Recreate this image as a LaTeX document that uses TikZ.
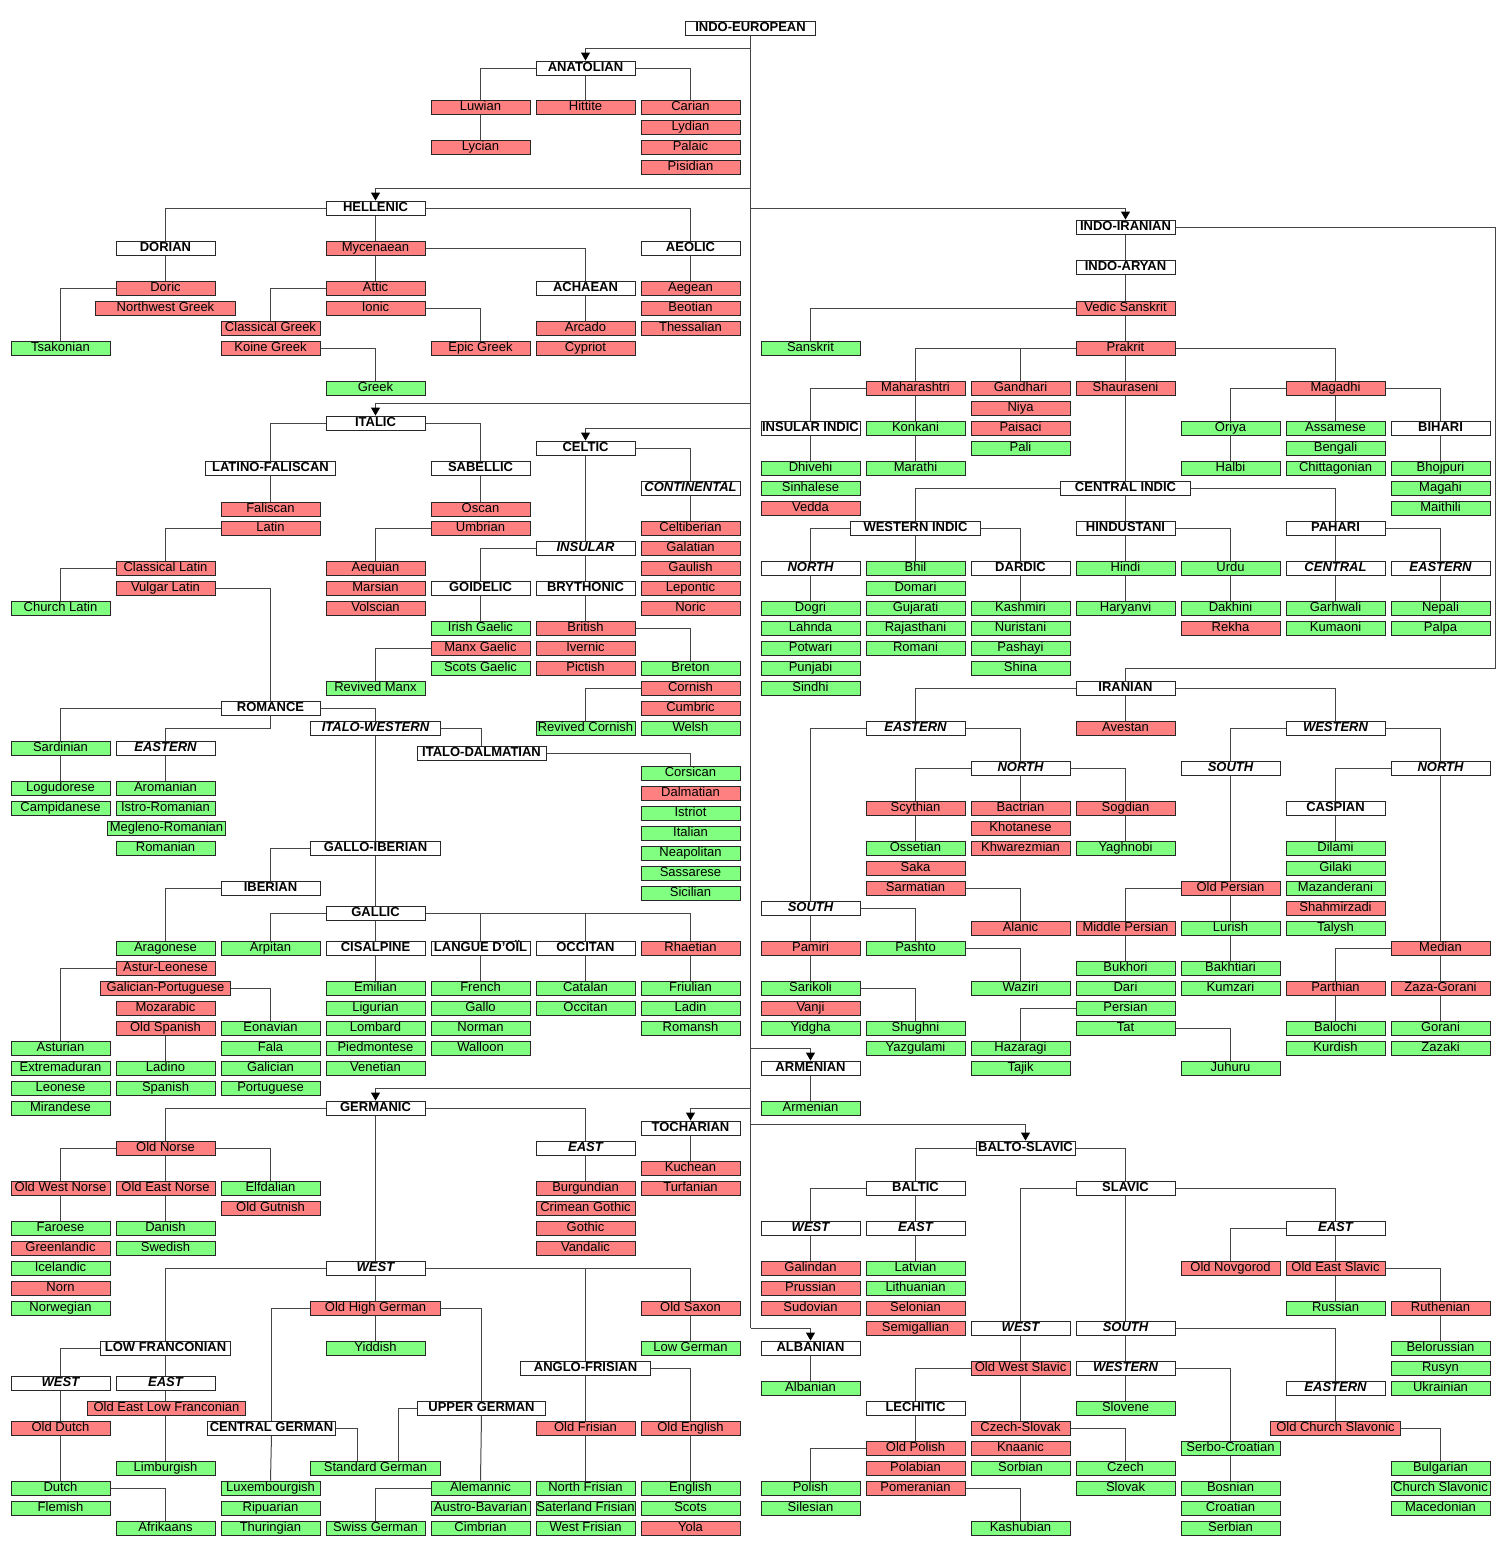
\documentclass[tikz,border=0pt]{standalone}
\usepackage{fontspec}
\setmainfont{Liberation Sans}
\usetikzlibrary{arrows.meta,calc}
\pgfdeclarelayer{bg}
\pgfsetlayers{bg,main}
\definecolor{lred}{RGB}{255,128,128}
\definecolor{lgreen}{RGB}{128,255,128}
\definecolor{lncol}{RGB}{70,70,70}
\definecolor{bdcol}{RGB}{40,40,40}
\newcommand\fsz{\fontsize{13}{14}\selectfont}
\newcommand\nd[5]{\node[#1] (#2) at (#3,#4) {#5};}
\tikzset{
  box/.style={draw=bdcol, line width=0.9pt, minimum width=99pt, minimum height=14pt,
    inner sep=0pt, text height=9.4pt, text depth=2.6pt, font=\fsz},
  rb/.style={box, fill=lred},
  gb/.style={box, fill=lgreen},
  wb/.style={box, fill=white, font=\fsz\bfseries},
  wi/.style={box, fill=white, font=\fsz\bfseries\itshape},
  ln/.style={draw=lncol, line width=1pt},
  arr/.style={ln, -{Triangle[width=9pt,length=8pt,color=black]}}
}
\begin{document}
\begin{tikzpicture}[x=1pt,y=-1pt]
\useasboundingbox (-0.5,-1) rectangle (1499.5,1549);
% ---------------- nodes ----------------
\nd{wb,minimum width=130pt}{IE}{750}{27}{INDO-EUROPEAN}
% Anatolian
\nd{wb}{ANA}{585}{67}{ANATOLIAN}
\nd{rb}{luw}{480}{106}{Luwian}
\nd{rb}{hit}{585}{106}{Hittite}
\nd{rb}{car}{690}{106}{Carian}
\nd{rb}{lyc}{480}{146}{Lycian}
\nd{rb}{lyd}{690}{126}{Lydian}
\nd{rb}{pal}{690}{146}{Palaic}
\nd{rb}{pis}{690}{166}{Pisidian}
% Hellenic
\nd{wb}{HEL}{375}{207}{HELLENIC}
\nd{wb}{DOR}{165}{247}{DORIAN}
\nd{rb}{myc}{375}{247}{Mycenaean}
\nd{wb}{AEO}{690}{247}{AEOLIC}
\nd{rb}{dor}{165}{287}{Doric}
\nd{rb,minimum width=140pt}{nwg}{165}{307}{Northwest Greek}
\nd{gb}{tsa}{60}{347}{Tsakonian}
\nd{rb}{att}{375}{287}{Attic}
\nd{rb}{ion}{375}{307}{Ionic}
\nd{rb}{clg}{270}{327}{Classical Greek}
\nd{rb}{koi}{270}{347}{Koine Greek}
\nd{gb}{gre}{375}{387}{Greek}
\nd{rb}{epi}{480}{347}{Epic Greek}
\nd{wb}{ACH}{585}{287}{ACHAEAN}
\nd{rb}{arc}{585}{327}{Arcado}
\nd{rb}{cyp}{585}{347}{Cypriot}
\nd{rb}{aeg}{690}{287}{Aegean}
\nd{rb}{beo}{690}{307}{Beotian}
\nd{rb}{the}{690}{327}{Thessalian}
% Italic
\nd{wb}{ITA}{375}{422}{ITALIC}
\nd{wb,minimum width=130pt}{LF}{270}{467}{LATINO-FALISCAN}
\nd{wb}{SAB}{480}{467}{SABELLIC}
\nd{rb}{fal}{270}{508}{Faliscan}
\nd{rb}{lat}{270}{527}{Latin}
\nd{rb}{cll}{165}{567}{Classical Latin}
\nd{rb}{vul}{165}{587}{Vulgar Latin}
\nd{gb}{chl}{60}{607}{Church Latin}
\nd{rb}{osc}{480}{508}{Oscan}
\nd{rb}{umb}{480}{527}{Umbrian}
\nd{rb}{aeq}{375}{567}{Aequian}
\nd{rb}{mar}{375}{587}{Marsian}
\nd{rb}{vol}{375}{607}{Volscian}
% Celtic
\nd{wb}{CEL}{585}{447}{CELTIC}
\nd{wi}{CON}{690}{487}{CONTINENTAL}
\nd{rb}{cib}{690}{527}{Celtiberian}
\nd{rb}{gal}{690}{547}{Galatian}
\nd{rb}{gau}{690}{567}{Gaulish}
\nd{rb}{lep}{690}{587}{Lepontic}
\nd{rb}{nor}{690}{607}{Noric}
\nd{wi}{INS}{585}{547}{INSULAR}
\nd{wb}{GOI}{480}{587}{GOIDELIC}
\nd{wb}{BRY}{585}{587}{BRYTHONIC}
\nd{gb}{iri}{480}{627}{Irish Gaelic}
\nd{rb}{mxg}{480}{647}{Manx Gaelic}
\nd{gb}{scg}{480}{667}{Scots Gaelic}
\nd{gb}{rvm}{375}{687}{Revived Manx}
\nd{rb}{bri}{585}{627}{British}
\nd{rb}{ive}{585}{647}{Ivernic}
\nd{rb}{pic}{585}{667}{Pictish}
\nd{gb}{bre}{690}{667}{Breton}
\nd{rb}{cor}{690}{687}{Cornish}
\nd{rb}{cum}{690}{707}{Cumbric}
\nd{gb}{wel}{690}{727}{Welsh}
\nd{gb}{rvc}{585}{727}{Revived Cornish}
% Romance
\nd{wb}{ROM}{270}{707}{ROMANCE}
\nd{gb}{sar}{60}{747}{Sardinian}
\nd{wi}{REA}{165}{747}{EASTERN}
\nd{gb}{log}{60}{787}{Logudorese}
\nd{gb}{cam}{60}{807}{Campidanese}
\nd{gb}{aro}{165}{787}{Aromanian}
\nd{gb}{ist}{165}{807}{Istro-Romanian}
\nd{gb,minimum width=118pt}{meg}{166}{827}{Megleno-Romanian}
\nd{gb}{rmn}{165}{847}{Romanian}
\nd{wi,minimum width=130pt}{IW}{375}{727}{ITALO-WESTERN}
\nd{wb,minimum width=129pt}{ID}{481}{752}{ITALO-DALMATIAN}
\nd{gb}{crs}{690}{772}{Corsican}
\nd{rb}{dal}{690}{792}{Dalmatian}
\nd{gb}{isr}{690}{812}{Istriot}
\nd{gb}{itl}{690}{832}{Italian}
\nd{gb}{nea}{690}{852}{Neapolitan}
\nd{gb}{sas}{690}{872}{Sassarese}
\nd{gb}{sic}{690}{892}{Sicilian}
% Gallo-Iberian
\nd{wb,minimum width=130pt}{GI}{375}{847}{GALLO-IBERIAN}
\nd{wb}{IBE}{270}{887}{IBERIAN}
\nd{wb}{GAL}{375}{912}{GALLIC}
\nd{gb}{ara}{165}{947}{Aragonese}
\nd{rb}{ast}{165}{967}{Astur-Leonese}
\nd{rb,minimum width=130pt}{gp}{165}{987}{Galician-Portuguese}
\nd{rb}{moz}{165}{1007}{Mozarabic}
\nd{rb}{osp}{165}{1027}{Old Spanish}
\nd{gb}{asu}{60}{1047}{Asturian}
\nd{gb}{ext}{60}{1067}{Extremaduran}
\nd{gb}{leo}{60}{1087}{Leonese}
\nd{gb}{mir}{60}{1107}{Mirandese}
\nd{gb}{lad}{165}{1067}{Ladino}
\nd{gb}{spa}{165}{1087}{Spanish}
\nd{gb}{eon}{270}{1027}{Eonavian}
\nd{gb}{fala}{270}{1047}{Fala}
\nd{gb}{glc}{270}{1067}{Galician}
\nd{gb}{por}{270}{1087}{Portuguese}
\nd{gb}{arp}{270}{947}{Arpitan}
\nd{wb}{CIS}{375}{947}{CISALPINE}
\nd{wb}{LDO}{480}{947}{LANGUE D'OÏL}
\nd{wb}{OCC}{585}{947}{OCCITAN}
\nd{rb}{rha}{690}{947}{Rhaetian}
\nd{gb}{emi}{375}{987}{Emilian}
\nd{gb}{lig}{375}{1007}{Ligurian}
\nd{gb}{lom}{375}{1027}{Lombard}
\nd{gb}{pie}{375}{1047}{Piedmontese}
\nd{gb}{ven}{375}{1067}{Venetian}
\nd{gb}{fre}{480}{987}{French}
\nd{gb}{gll}{480}{1007}{Gallo}
\nd{gb}{nrm}{480}{1027}{Norman}
\nd{gb}{wal}{480}{1047}{Walloon}
\nd{gb}{cat}{585}{987}{Catalan}
\nd{gb}{oci}{585}{1007}{Occitan}
\nd{gb}{fri}{690}{987}{Friulian}
\nd{gb}{ldn}{690}{1007}{Ladin}
\nd{gb}{rms}{690}{1027}{Romansh}
% Germanic
\nd{wb}{GER}{375}{1107}{GERMANIC}
\nd{rb}{ono}{165}{1147}{Old Norse}
\nd{wi}{GEE}{585}{1147}{EAST}
\nd{rb}{own}{60}{1187}{Old West Norse}
\nd{rb}{oen}{165}{1187}{Old East Norse}
\nd{gb}{elf}{270}{1187}{Elfdalian}
\nd{rb}{ogu}{270}{1207}{Old Gutnish}
\nd{gb}{far}{60}{1227}{Faroese}
\nd{rb}{grl}{60}{1247}{Greenlandic}
\nd{gb}{ice}{60}{1267}{Icelandic}
\nd{rb}{nrn}{60}{1287}{Norn}
\nd{gb}{nrw}{60}{1307}{Norwegian}
\nd{gb}{dan}{165}{1227}{Danish}
\nd{gb}{swe}{165}{1247}{Swedish}
\nd{rb}{bur}{585}{1187}{Burgundian}
\nd{rb}{crg}{585}{1207}{Crimean Gothic}
\nd{rb}{got}{585}{1227}{Gothic}
\nd{rb}{van}{585}{1247}{Vandalic}
\nd{wi}{GEW}{375}{1267}{WEST}
\nd{wb,minimum width=130pt}{LFR}{165}{1347}{LOW FRANCONIAN}
\nd{rb,minimum width=130pt}{ohg}{375}{1307}{Old High German}
\nd{gb}{yid}{375}{1347}{Yiddish}
\nd{rb}{osx}{690}{1307}{Old Saxon}
\nd{gb}{lgr}{690}{1347}{Low German}
\nd{wb,minimum width=130pt}{AF}{585}{1367}{ANGLO-FRISIAN}
\nd{wi}{LFW}{60}{1382}{WEST}
\nd{wi}{LFE}{165}{1382}{EAST}
\nd{rb,minimum width=158pt}{oelf}{166}{1407}{Old East Low Franconian}
\nd{rb}{odu}{60}{1427}{Old Dutch}
\nd{gb}{dut}{60}{1487}{Dutch}
\nd{gb}{fle}{60}{1507}{Flemish}
\nd{gb}{afr}{165}{1527}{Afrikaans}
\nd{gb}{lim}{165}{1467}{Limburgish}
\nd{wb,minimum width=128pt}{CG}{271}{1427}{CENTRAL GERMAN}
\nd{gb}{lux}{270}{1487}{Luxembourgish}
\nd{gb}{rip}{270}{1507}{Ripuarian}
\nd{gb}{thu}{270}{1527}{Thuringian}
\nd{gb,minimum width=130pt}{stg}{375}{1467}{Standard German}
\nd{wb,minimum width=128pt}{UG}{481}{1407}{UPPER GERMAN}
\nd{gb}{ale}{480}{1487}{Alemannic}
\nd{gb}{aus}{480}{1507}{Austro-Bavarian}
\nd{gb}{cim}{480}{1527}{Cimbrian}
\nd{gb}{swg}{375}{1527}{Swiss German}
\nd{rb}{ofr}{585}{1427}{Old Frisian}
\nd{gb}{nfr}{585}{1487}{North Frisian}
\nd{gb}{sfr}{585}{1507}{Saterland Frisian}
\nd{gb}{wfr}{585}{1527}{West Frisian}
\nd{rb}{oeng}{690}{1427}{Old English}
\nd{gb}{eng}{690}{1487}{English}
\nd{gb}{sco}{690}{1507}{Scots}
\nd{rb}{yol}{690}{1527}{Yola}
% Tocharian
\nd{wb}{TOC}{690}{1127}{TOCHARIAN}
\nd{rb}{kuc}{690}{1167}{Kuchean}
\nd{rb}{tur}{690}{1187}{Turfanian}
% Indo-Iranian
\nd{wb}{II}{1125}{226}{INDO-IRANIAN}
\nd{wb}{IA}{1125}{266}{INDO-ARYAN}
\nd{rb}{ved}{1125}{307}{Vedic Sanskrit}
\nd{gb}{san}{810}{347}{Sanskrit}
\nd{rb}{pra}{1125}{347}{Prakrit}
\nd{rb}{mah}{915}{387}{Maharashtri}
\nd{rb}{gan}{1020}{387}{Gandhari}
\nd{rb}{sha}{1125}{387}{Shauraseni}
\nd{rb}{mag}{1335}{387}{Magadhi}
\nd{rb}{niy}{1020}{407}{Niya}
\nd{wb}{INI}{810}{427}{INSULAR INDIC}
\nd{gb}{kon}{915}{427}{Konkani}
\nd{rb}{pai}{1020}{427}{Paisaci}
\nd{gb}{pli}{1020}{447}{Pali}
\nd{gb}{ori}{1230}{427}{Oriya}
\nd{gb}{asm}{1335}{427}{Assamese}
\nd{wb}{BIH}{1440}{427}{BIHARI}
\nd{gb}{ben}{1335}{447}{Bengali}
\nd{gb}{dhi}{810}{467}{Dhivehi}
\nd{gb}{mrt}{915}{467}{Marathi}
\nd{gb}{hal}{1230}{467}{Halbi}
\nd{gb}{chi}{1335}{467}{Chittagonian}
\nd{gb}{bho}{1440}{467}{Bhojpuri}
\nd{gb}{sin}{810}{487}{Sinhalese}
\nd{wb,minimum width=130pt}{CI}{1125}{487}{CENTRAL INDIC}
\nd{gb}{mgh}{1440}{487}{Magahi}
\nd{rb}{vda}{810}{507}{Vedda}
\nd{gb}{mai}{1440}{507}{Maithili}
\nd{wb,minimum width=130pt}{WI}{915}{527}{WESTERN INDIC}
\nd{wb}{HIN}{1125}{527}{HINDUSTANI}
\nd{wb}{PAH}{1335}{527}{PAHARI}
\nd{wi}{WIN}{810}{567}{NORTH}
\nd{gb}{bhi}{915}{567}{Bhil}
\nd{wb}{DAR}{1020}{567}{DARDIC}
\nd{gb}{hnd}{1125}{567}{Hindi}
\nd{gb}{urd}{1230}{567}{Urdu}
\nd{wi}{PAC}{1335}{567}{CENTRAL}
\nd{wi}{PAE}{1440}{567}{EASTERN}
\nd{gb}{dom}{915}{587}{Domari}
\nd{gb}{dog}{810}{607}{Dogri}
\nd{gb}{guj}{915}{607}{Gujarati}
\nd{gb}{kas}{1020}{607}{Kashmiri}
\nd{gb}{har}{1125}{607}{Haryanvi}
\nd{gb}{dak}{1230}{607}{Dakhini}
\nd{gb}{gar}{1335}{607}{Garhwali}
\nd{gb}{nep}{1440}{607}{Nepali}
\nd{gb}{lah}{810}{627}{Lahnda}
\nd{gb}{raj}{915}{627}{Rajasthani}
\nd{gb}{nur}{1020}{627}{Nuristani}
\nd{rb}{rek}{1230}{627}{Rekha}
\nd{gb}{kum}{1335}{627}{Kumaoni}
\nd{gb}{plp}{1440}{627}{Palpa}
\nd{gb}{pot}{810}{647}{Potwari}
\nd{gb}{rmi}{915}{647}{Romani}
\nd{gb}{pas}{1020}{647}{Pashayi}
\nd{gb}{pun}{810}{667}{Punjabi}
\nd{gb}{shi}{1020}{667}{Shina}
\nd{gb}{snd}{810}{687}{Sindhi}
% Iranian
\nd{wb}{IR}{1125}{687}{IRANIAN}
\nd{wi}{IRE}{915}{727}{EASTERN}
\nd{rb}{ave}{1125}{727}{Avestan}
\nd{wi}{IRW}{1335}{727}{WESTERN}
\nd{wi}{IEN}{1020}{767}{NORTH}
\nd{wi}{IWS}{1230}{767}{SOUTH}
\nd{wi}{IWN}{1440}{767}{NORTH}
\nd{rb}{scy}{915}{807}{Scythian}
\nd{rb}{bac}{1020}{807}{Bactrian}
\nd{rb}{sog}{1125}{807}{Sogdian}
\nd{wb}{CAS}{1335}{807}{CASPIAN}
\nd{rb}{kho}{1020}{827}{Khotanese}
\nd{gb}{oss}{915}{847}{Ossetian}
\nd{rb}{khw}{1020}{847}{Khwarezmian}
\nd{gb}{yag}{1125}{847}{Yaghnobi}
\nd{gb}{dil}{1335}{847}{Dilami}
\nd{rb}{sak}{915}{867}{Saka}
\nd{gb}{gil}{1335}{867}{Gilaki}
\nd{rb}{sarm}{915}{887}{Sarmatian}
\nd{rb}{ope}{1230}{887}{Old Persian}
\nd{gb}{maz}{1335}{887}{Mazanderani}
\nd{wi}{IES}{810}{907}{SOUTH}
\nd{rb}{shm}{1335}{907}{Shahmirzadi}
\nd{rb}{ala}{1020}{927}{Alanic}
\nd{rb}{mpe}{1125}{927}{Middle Persian}
\nd{gb}{lur}{1230}{927}{Lurish}
\nd{gb}{tal}{1335}{927}{Talysh}
\nd{rb}{pam}{810}{947}{Pamiri}
\nd{gb}{psh}{915}{947}{Pashto}
\nd{rb}{med}{1440}{947}{Median}
\nd{gb}{buk}{1125}{967}{Bukhori}
\nd{gb}{bak}{1230}{967}{Bakhtiari}
\nd{gb}{sko}{810}{987}{Sarikoli}
\nd{gb}{waz}{1020}{987}{Waziri}
\nd{gb}{dri}{1125}{987}{Dari}
\nd{gb}{kmz}{1230}{987}{Kumzari}
\nd{rb}{par}{1335}{987}{Parthian}
\nd{rb}{zag}{1440}{987}{Zaza-Gorani}
\nd{rb}{vnj}{810}{1007}{Vanji}
\nd{gb}{per}{1125}{1007}{Persian}
\nd{gb}{ydg}{810}{1027}{Yidgha}
\nd{gb}{shu}{915}{1027}{Shughni}
\nd{gb}{tat}{1125}{1027}{Tat}
\nd{gb}{bal}{1335}{1027}{Balochi}
\nd{gb}{gor}{1440}{1027}{Gorani}
\nd{gb}{yaz}{915}{1047}{Yazgulami}
\nd{gb}{haz}{1020}{1047}{Hazaragi}
\nd{gb}{kur}{1335}{1047}{Kurdish}
\nd{gb}{zaz}{1440}{1047}{Zazaki}
\nd{gb}{taj}{1020}{1067}{Tajik}
\nd{gb}{juh}{1230}{1067}{Juhuru}
% Armenian
\nd{wb}{ARM}{810}{1067}{ARMENIAN}
\nd{gb}{arm}{810}{1107}{Armenian}
% Balto-Slavic
\nd{wb}{BS}{1025}{1147}{BALTO-SLAVIC}
\nd{wb}{BAL}{915}{1187}{BALTIC}
\nd{wb}{SLA}{1125}{1187}{SLAVIC}
\nd{wi}{BW}{810}{1227}{WEST}
\nd{wi}{BE}{915}{1227}{EAST}
\nd{wi}{SE}{1335}{1227}{EAST}
\nd{rb}{gld}{810}{1267}{Galindan}
\nd{gb}{ltv}{915}{1267}{Latvian}
\nd{rb}{onv}{1230}{1267}{Old Novgorod}
\nd{rb}{oes}{1335}{1267}{Old East Slavic}
\nd{rb}{pru}{810}{1287}{Prussian}
\nd{gb}{lit}{915}{1287}{Lithuanian}
\nd{rb}{sud}{810}{1307}{Sudovian}
\nd{rb}{sel}{915}{1307}{Selonian}
\nd{gb}{rus}{1335}{1307}{Russian}
\nd{rb}{rut}{1440}{1307}{Ruthenian}
\nd{rb}{sem}{915}{1327}{Semigallian}
\nd{wi}{SW}{1020}{1327}{WEST}
\nd{wi}{SS}{1125}{1327}{SOUTH}
\nd{wb}{ALB}{810}{1347}{ALBANIAN}
\nd{gb}{bel}{1440}{1347}{Belorussian}
\nd{rb}{ows}{1020}{1367}{Old West Slavic}
\nd{wi}{SSW}{1125}{1367}{WESTERN}
\nd{gb}{rsy}{1440}{1367}{Rusyn}
\nd{gb}{alb}{810}{1387}{Albanian}
\nd{wi}{SSE}{1335}{1387}{EASTERN}
\nd{gb}{ukr}{1440}{1387}{Ukrainian}
\nd{wb}{LEC}{915}{1407}{LECHITIC}
\nd{gb}{slo}{1125}{1407}{Slovene}
\nd{rb}{czs}{1020}{1427}{Czech-Slovak}
\nd{rb,minimum width=130pt}{ocs}{1335}{1427}{Old Church Slavonic}
\nd{rb}{opo}{915}{1447}{Old Polish}
\nd{rb}{kna}{1020}{1447}{Knaanic}
\nd{gb}{sbc}{1230}{1447}{Serbo-Croatian}
\nd{rb}{pla}{915}{1467}{Polabian}
\nd{gb}{sor}{1020}{1467}{Sorbian}
\nd{gb}{cze}{1125}{1467}{Czech}
\nd{gb}{bul}{1440}{1467}{Bulgarian}
\nd{gb}{pol}{810}{1487}{Polish}
\nd{rb}{pom}{915}{1487}{Pomeranian}
\nd{gb}{slk}{1125}{1487}{Slovak}
\nd{gb}{bos}{1230}{1487}{Bosnian}
\nd{gb}{chs}{1440}{1487}{Church Slavonic}
\nd{gb}{sil}{810}{1507}{Silesian}
\nd{gb}{cro}{1230}{1507}{Croatian}
\nd{gb}{mac}{1440}{1507}{Macedonian}
\nd{gb}{ksh}{1020}{1527}{Kashubian}
\nd{gb}{ser}{1230}{1527}{Serbian}
% ---------------- helper coordinates ----------------
\coordinate (tA) at (750,47);
\coordinate (tH) at (750,187);
\coordinate (tII) at (750,207);
\coordinate (tI) at (750,402);
\coordinate (tC) at (750,427);
\coordinate (tAR) at (750,1047);
\coordinate (tG) at (750,1087);
\coordinate (tT) at (750,1107);
\coordinate (tB) at (750,1123);
\coordinate (tAL) at (750,1327);
\coordinate (iiA) at (1495,226);
\coordinate (iiB) at (1495,667);
\coordinate (romK) at (165,727);
\coordinate (sgA) at (357,1460);
\coordinate (sgB) at (398,1460);
% ---------------- connectors ----------------
\begin{pgfonlayer}{bg}
\fill[white] (-0.5,-1) rectangle (1499.5,1549);
\draw[ln] (IE.south) -- (tAL);
\draw[arr] (tA) -| (ANA.north);
\draw[arr] (tH) -| (HEL.north);
\draw[arr] (tII) -| (II.north);
\draw[arr] (tI) -| (ITA.north);
\draw[arr] (tC) -| (CEL.north);
\draw[arr] (tAR) -| (ARM.north);
\draw[arr] (tG) -| (GER.north);
\draw[arr] (tT) -| (TOC.north);
\draw[arr] (tB) -| (BS.north);
\draw[arr] (tAL) -| (ALB.north);
% Anatolian
\draw[ln] (ANA.west) -| (luw.north);
\draw[ln] (ANA.south) -- (hit.north);
\draw[ln] (ANA.east) -| (car.north);
\draw[ln] (luw.south) -- (lyc.north);
% Hellenic
\draw[ln] (HEL.west) -| (DOR.north);
\draw[ln] (HEL.south) -- (myc.north);
\draw[ln] (HEL.east) -| (AEO.north);
\draw[ln] (DOR.south) -- (dor.north);
\draw[ln] (dor.west) -| (tsa.north);
\draw[ln] (myc.south) -- (att.north);
\draw[ln] (att.west) -| (clg.north);
\draw[ln] (koi.east) -| (gre.north);
\draw[ln] (ion.east) -| (epi.north);
\draw[ln] (myc.east) -| (ACH.north);
\draw[ln] (ACH.south) -- (arc.north);
\draw[ln] (AEO.south) -- (aeg.north);
% Italic
\draw[ln] (ITA.west) -| (LF.north);
\draw[ln] (ITA.east) -| (SAB.north);
\draw[ln] (LF.south) -- (fal.north);
\draw[ln] (lat.west) -| (cll.north);
\draw[ln] (cll.west) -| (chl.north);
\draw[ln] (vul.east) -| (ROM.north);
\draw[ln] (SAB.south) -- (osc.north);
\draw[ln] (umb.west) -| (aeq.north);
% Celtic
\draw[ln] (CEL.east) -| (CON.north);
\draw[ln] (CON.south) -- (cib.north);
\draw[ln] (CEL.south) -- (INS.north);
\draw[ln] (INS.west) -| (GOI.north);
\draw[ln] (INS.south) -- (BRY.north);
\draw[ln] (GOI.south) -- (iri.north);
\draw[ln] (mxg.west) -| (rvm.north);
\draw[ln] (BRY.south) -- (bri.north);
\draw[ln] (bri.east) -| (bre.north);
\draw[ln] (cor.west) -| (rvc.north);
% Romance
\draw[ln] (ROM.west) -| (sar.north);
\draw[ln] (ROM.south) |- (romK) -- (REA.north);
\draw[ln] (ROM.east) -| (IW.north);
\draw[ln] (sar.south) -- (log.north);
\draw[ln] (REA.south) -- (aro.north);
\draw[ln] (IW.east) -| (ID.north);
\draw[ln] (ID.east) -| (crs.north);
\draw[ln] (IW.south) -- (GAL.north);
\draw[ln] (GI.west) -| (IBE.north);
\draw[ln] (IBE.west) -| (ara.north);
\draw[ln] (ast.west) -| (asu.north);
\draw[ln] (gp.east) -| (eon.north);
\draw[ln] (osp.south) -- (lad.north);
\draw[ln] (GAL.west) -| (arp.north);
\draw[ln] (GAL.south) -- (CIS.north);
\draw[ln] (GAL.east) -| (LDO.north);
\draw[ln] (GAL.east) -| (OCC.north);
\draw[ln] (GAL.east) -| (rha.north);
\draw[ln] (CIS.south) -- (emi.north);
\draw[ln] (LDO.south) -- (fre.north);
\draw[ln] (OCC.south) -- (cat.north);
\draw[ln] (rha.south) -- (fri.north);
% Germanic
\draw[ln] (GER.west) -| (ono.north);
\draw[ln] (GER.east) -| (GEE.north);
\draw[ln] (GER.south) -- (GEW.north);
\draw[ln] (ono.west) -| (own.north);
\draw[ln] (ono.south) -- (oen.north);
\draw[ln] (ono.east) -| (elf.north);
\draw[ln] (own.south) -- (far.north);
\draw[ln] (oen.south) -- (dan.north);
\draw[ln] (GEE.south) -- (bur.north);
\draw[ln] (GEW.west) -| (LFR.north);
\draw[ln] (GEW.south) -- (ohg.north);
\draw[ln] (GEW.east) -| (AF.north);
\draw[ln] (GEW.east) -| (osx.north);
\draw[ln] (osx.south) -- (lgr.north);
\draw[ln] (ohg.south) -- (yid.north);
\draw[ln] (LFR.west) -| (LFW.north);
\draw[ln] (LFR.south) -- (LFE.north);
\draw[ln] (LFW.south) -- (dut.north);
\draw[ln] (dut.east) -| (afr.north);
\draw[ln] (LFE.south) -- (lim.north);
\draw[ln] (ohg.west) -| (CG.north);
\draw[ln] (CG.south) -- (lux.north);
\draw[ln] (CG.east) -| (sgA);
\draw[ln] (ohg.east) -| (UG.north);
\draw[ln] (UG.west) -| (sgB);
\draw[ln] (UG.south) -- (ale.north);
\draw[ln] (ale.west) -| (swg.north);
\draw[ln] (AF.south) -- (nfr.north);
\draw[ln] (AF.east) -| (oeng.north);
\draw[ln] (oeng.south) -- (eng.north);
% Tocharian
\draw[ln] (TOC.south) -- (kuc.north);
% Indo-Aryan
\draw[ln] (II.south) -- (IA.north);
\draw[ln] (IA.south) -- (ved.north);
\draw[ln] (ved.south) -- (pra.north);
\draw[ln] (ved.west) -| (san.north);
\draw[ln] (pra.west) -| (mah.north);
\draw[ln] (pra.west) -| (gan.north);
\draw[ln] (pra.south) -- (sha.north);
\draw[ln] (pra.east) -| (mag.north);
\draw[ln] (sha.south) -- (CI.north);
\draw[ln] (CI.south) -- (HIN.north);
\draw[ln] (HIN.south) -- (hnd.north);
\draw[ln] (hnd.south) -- (har.north);
\draw[ln] (mah.west) -| (INI.north);
\draw[ln] (INI.south) -- (dhi.north);
\draw[ln] (mah.south) -- (kon.north);
\draw[ln] (kon.south) -- (mrt.north);
\draw[ln] (mag.west) -| (ori.north);
\draw[ln] (ori.south) -- (hal.north);
\draw[ln] (mag.south) -- (asm.north);
\draw[ln] (mag.east) -| (BIH.north);
\draw[ln] (BIH.south) -- (bho.north);
\draw[ln] (CI.west) -| (WI.north);
\draw[ln] (CI.east) -| (PAH.north);
\draw[ln] (WI.west) -| (WIN.north);
\draw[ln] (WIN.south) -- (dog.north);
\draw[ln] (WI.south) -- (bhi.north);
\draw[ln] (WI.east) -| (DAR.north);
\draw[ln] (DAR.south) -- (kas.north);
\draw[ln] (HIN.east) -| (urd.north);
\draw[ln] (urd.south) -- (dak.north);
\draw[ln] (PAH.south) -- (PAC.north);
\draw[ln] (PAC.south) -- (gar.north);
\draw[ln] (PAH.east) -| (PAE.north);
\draw[ln] (PAE.south) -- (nep.north);
\draw[ln] (II.east) -- (iiA) -- (iiB) -| (IR.north);
% Iranian
\draw[ln] (IR.west) -| (IRE.north);
\draw[ln] (IR.south) -- (ave.north);
\draw[ln] (IR.east) -| (IRW.north);
\draw[ln] (IRE.west) -| (IES.north);
\draw[ln] (IRE.east) -| (IEN.north);
\draw[ln] (IEN.west) -| (scy.north);
\draw[ln] (IEN.south) -- (bac.north);
\draw[ln] (IEN.east) -| (sog.north);
\draw[ln] (sog.south) -- (yag.north);
\draw[ln] (scy.south) -- (oss.north);
\draw[ln] (sarm.east) -| (ala.north);
\draw[ln] (IES.south) -- (pam.north);
\draw[ln] (IES.east) -| (psh.north);
\draw[ln] (pam.south) -- (sko.north);
\draw[ln] (psh.east) -| (waz.north);
\draw[ln] (sko.east) -| (shu.north);
\draw[ln] (IRW.west) -| (IWS.north);
\draw[ln] (IWS.south) -- (ope.north);
\draw[ln] (ope.south) -- (lur.north);
\draw[ln] (lur.south) -- (bak.north);
\draw[ln] (ope.west) -| (mpe.north);
\draw[ln] (mpe.south) -- (buk.north);
\draw[ln] (per.west) -| (haz.north);
\draw[ln] (tat.east) -| (juh.north);
\draw[ln] (IRW.east) -| (IWN.north);
\draw[ln] (IWN.south) -- (med.north);
\draw[ln] (IWN.west) -| (CAS.north);
\draw[ln] (CAS.south) -- (dil.north);
\draw[ln] (med.west) -| (par.north);
\draw[ln] (par.south) -- (bal.north);
\draw[ln] (med.south) -- (zag.north);
\draw[ln] (zag.south) -- (gor.north);
% Armenian, Albanian
\draw[ln] (ARM.south) -- (arm.north);
\draw[ln] (ALB.south) -- (alb.north);
% Balto-Slavic
\draw[ln] (BS.west) -| (BAL.north);
\draw[ln] (BS.east) -| (SLA.north);
\draw[ln] (BAL.west) -| (BW.north);
\draw[ln] (BAL.south) -- (BE.north);
\draw[ln] (BW.south) -- (gld.north);
\draw[ln] (BE.south) -- (ltv.north);
\draw[ln] (SLA.west) -| (SW.north);
\draw[ln] (SLA.south) -- (SS.north);
\draw[ln] (SLA.east) -| (SE.north);
\draw[ln] (SE.west) -| (onv.north);
\draw[ln] (SE.south) -- (oes.north);
\draw[ln] (oes.south) -- (rus.north);
\draw[ln] (oes.east) -| (rut.north);
\draw[ln] (rut.south) -- (bel.north);
\draw[ln] (SW.south) -- (ows.north);
\draw[ln] (ows.south) -- (czs.north);
\draw[ln] (ows.west) -| (LEC.north);
\draw[ln] (LEC.south) -- (opo.north);
\draw[ln] (opo.west) -| (pol.north);
\draw[ln] (pom.east) -| (ksh.north);
\draw[ln] (czs.east) -| (cze.north);
\draw[ln] (SS.south) -- (SSW.north);
\draw[ln] (SSW.south) -- (slo.north);
\draw[ln] (SSW.east) -| (sbc.north);
\draw[ln] (sbc.south) -- (bos.north);
\draw[ln] (SS.east) -| (SSE.north);
\draw[ln] (SSE.south) -- (ocs.north);
\draw[ln] (ocs.east) -| (bul.north);
\end{pgfonlayer}
\end{tikzpicture}
\end{document}
